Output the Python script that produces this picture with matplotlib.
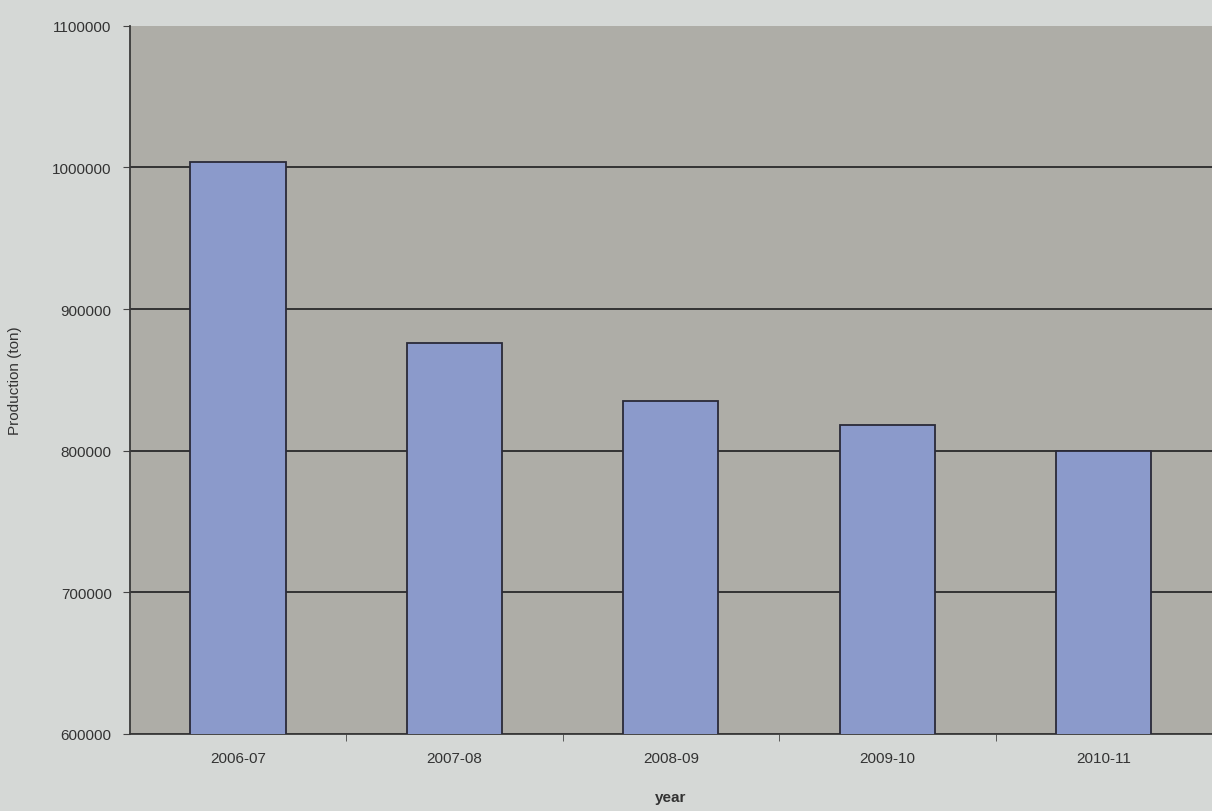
import matplotlib.pyplot as plt
import numpy as np

# production per season (ton)
years = ['2006-07', '2007-08', '2008-09', '2009-10', '2010-11']
production = [1004000, 876000, 835000, 818000, 800000]
y_ticks = [600000, 700000, 800000, 900000, 1000000, 1100000]

plt.rcParams['font.family'] = ['Liberation Sans', 'DejaVu Sans']

fig = plt.figure(figsize=(12.12, 8.12), dpi=100, facecolor='#d5d8d6')
ax = fig.add_axes([0.107, 0.095, 0.893, 0.872])
ax.set_facecolor('#aeada7')

x = np.arange(len(years))
ax.bar(x, production, width=0.44, color='#8b9acb', edgecolor='#2a2a38',
       linewidth=1.3, zorder=3)

ax.set_ylim(600000, 1100000)
ax.set_yticks(y_ticks)
ax.set_yticklabels([str(v) for v in y_ticks])
ax.yaxis.grid(True, color='#333333', linewidth=1.4, zorder=1)
# no line along the top edge of the plot area
ax.get_ygridlines()[-1].set_visible(False)

ax.set_xlim(-0.5, len(years) - 0.5)
ax.set_xticks(x)
ax.set_xticklabels(years)
ax.set_xticks(np.arange(len(years)) + 0.5, minor=True)
ax.tick_params(axis='x', which='major', length=0, pad=12, labelsize=11,
               labelcolor='#333333')
ax.tick_params(axis='x', which='minor', length=5, color='#444444')
ax.tick_params(axis='y', length=5, pad=8, labelsize=11,
               labelcolor='#333333', color='#444444')

for side in ['top', 'right']:
    ax.spines[side].set_visible(False)
for side in ['left', 'bottom']:
    ax.spines[side].set_color('#3a3a3a')
    ax.spines[side].set_linewidth(1.3)

ax.set_xlabel('year', fontsize=11, fontweight='bold', color='#333333',
              labelpad=18)
ax.set_ylabel('Production (ton)', fontsize=11, color='#333333', labelpad=22)

plt.savefig('out.png', dpi=100, facecolor=fig.get_facecolor())
